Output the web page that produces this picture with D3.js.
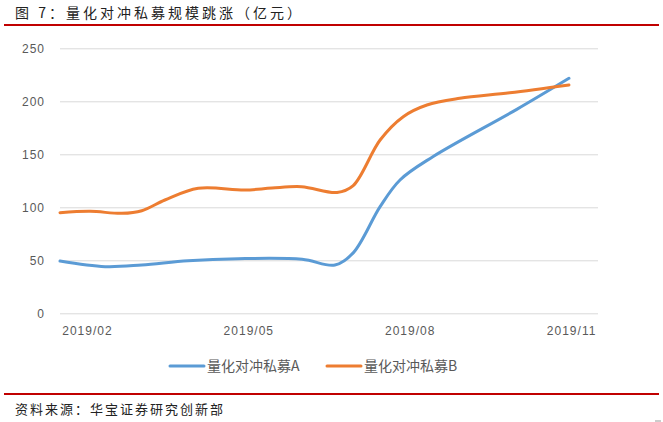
<!DOCTYPE html>
<html>
<head>
<meta charset="utf-8">
<script src="https://cdn.jsdelivr.net/npm/d3@7/dist/d3.min.js"></script>
<style>
  html, body { margin: 0; padding: 0; background: #fff; }
  svg { display: block; }
</style>
</head>
<body>
<svg id="chart" width="663" height="422"></svg>
<script>
// ---- Data (months as fractional month-of-2019; values in 亿元) ----
const titleText = "图 7：量化对冲私募规模跳涨（亿元）";
const sourceText = "资料来源：华宝证券研究创新部";
const seriesNames = ["量化对冲私募A", "量化对冲私募B"];
const monthsA = [1.5, 2.34, 3.02, 3.88, 4.81, 6.0, 6.61, 6.95, 7.45, 7.82, 8.43, 9.99, 10.96];
const valuesA = [49.3, 44.0, 45.6, 49.6, 51.5, 50.9, 45.5, 57.0, 100.6, 125.8, 147.7, 192.4, 221.7];
const monthsB = [1.5, 2.06, 2.65, 3.02, 3.45, 4.07, 4.94, 5.44, 5.99, 6.65, 6.95, 7.45, 7.88, 8.32, 8.93, 9.86, 10.96];
const valuesB = [94.9, 96.2, 94.3, 96.8, 106.9, 117.9, 116.3, 118.2, 119.4, 114.0, 120.5, 163.5, 185.5, 196.5, 202.8, 208.0, 215.4];
const yTicks = [0, 50, 100, 150, 200, 250];
const xTickMonths = [2, 5, 8, 11];
const xTickLabels = ["2019/02", "2019/05", "2019/08", "2019/11"];
const colors = ["#5b9bd5", "#ed7d31"];

const svg = d3.select("#chart");
const cjk = "'Noto Sans CJK SC', 'Noto Sans', sans-serif";

// Title & rules
svg.append("text").attr("x", 15).attr("y", 18)
  .attr("font-family", cjk).attr("font-size", 14).attr("letter-spacing", 3)
  .attr("fill", "#222").text(titleText);
svg.append("line").attr("x1", 4).attr("x2", 659).attr("y1", 25).attr("y2", 25)
  .attr("stroke", "#c00000").attr("stroke-width", 2);
svg.append("line").attr("x1", 4).attr("x2", 659).attr("y1", 394).attr("y2", 394)
  .attr("stroke", "#c00000").attr("stroke-width", 2);
svg.append("text").attr("x", 15).attr("y", 414)
  .attr("font-family", cjk).attr("font-size", 13).attr("letter-spacing", 2)
  .attr("fill", "#222").text(sourceText);
svg.append("line").attr("x1", 655).attr("x2", 661).attr("y1", 421).attr("y2", 421)
  .attr("stroke", "#999").attr("stroke-width", 1);

// Scales
const x = d3.scaleLinear().domain([1.5, 11.5]).range([60, 598]);
const y = d3.scaleLinear().domain([0, 250]).range([313.3, 48.3]);

// Gridlines + y labels
const yAxis = d3.axisLeft(y).tickValues(yTicks).tickSize(-(598 - 60)).tickPadding(15);
const gy = svg.append("g").attr("transform", "translate(60,0)").call(yAxis);
gy.select(".domain").remove();
gy.selectAll(".tick line").attr("stroke", "#d9d9d9").attr("stroke-width", 1);
gy.selectAll(".tick text").attr("font-family", "'Liberation Sans', Arial, sans-serif")
  .attr("font-size", 12).attr("letter-spacing", 1).attr("fill", "#595959");

// X labels
const xAxis = d3.axisBottom(x).tickValues(xTickMonths)
  .tickFormat((d, i) => xTickLabels[i]).tickSize(0).tickPadding(13);
const gx = svg.append("g").attr("transform", "translate(0,313.3)").call(xAxis);
gx.select(".domain").remove();
gx.selectAll(".tick text").attr("font-family", "'Liberation Sans', Arial, sans-serif")
  .attr("font-size", 12).attr("letter-spacing", 1).attr("fill", "#595959");

// Lines
const line = d3.line().x(d => x(d[0])).y(d => y(d[1])).curve(d3.curveCatmullRom.alpha(0.5));
const seriesData = [d3.zip(monthsA, valuesA), d3.zip(monthsB, valuesB)];
seriesData.forEach((s, i) => {
  svg.append("path").datum(s).attr("d", line)
    .attr("fill", "none").attr("stroke", colors[i]).attr("stroke-width", 3)
    .attr("stroke-linecap", "round").attr("stroke-linejoin", "round");
});

// Legend
const legendX = [170, 327];
seriesNames.forEach((name, i) => {
  svg.append("line").attr("x1", legendX[i]).attr("x2", legendX[i] + 34)
    .attr("y1", 366).attr("y2", 366).attr("stroke", colors[i]).attr("stroke-width", 3)
    .attr("stroke-linecap", "round");
  svg.append("text").attr("x", legendX[i] + 37).attr("y", 371)
    .attr("font-family", cjk).attr("font-size", 14).attr("fill", "#595959").text(name);
});
</script>
</body>
</html>
